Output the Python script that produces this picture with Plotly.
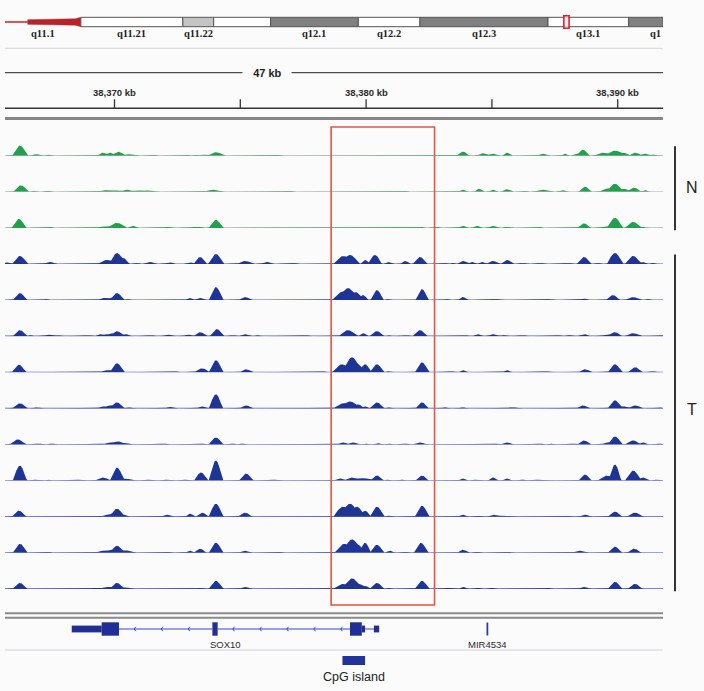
import numpy as np
import plotly.graph_objects as go

FIG_W, FIG_H = 704, 691

# ------------------------------------------------------------------ data
VIEW_START_KB = 38365.648
VIEW_END_KB = 38391.80
PEAK_OFFSET_KB = 38365.03          # peak positions below are kb offsets from here
RULER_TICKS_KB = [38370, 38375, 38380, 38385, 38390]
RULER_LABEL_EVERY_KB = 10
RULER_SPAN_LABEL = "47 kb"
RULER_SPAN_LABEL_KB = 38376.06
HIGHLIGHT_KB = [38378.61, 38382.72]

# chromosome 22 ideogram (hg19, Mb)
BAND_NAMES = ["q11.1", "q11.21", "q11.22", "q11.23", "q12.1", "q12.2", "q12.3", "q13.1", "q13.2"]
BAND_START_MB = [14.7, 17.9, 22.2, 23.5, 25.9, 29.6, 32.2, 37.6, 41.0]
BAND_END_MB = [17.9, 22.2, 23.5, 25.9, 29.6, 32.2, 37.6, 41.0, 44.2]
BAND_STAIN = ["acen", "gneg", "gpos25", "gneg", "gpos50", "gneg", "gpos50", "gneg", "gpos50"]
BAND_LABEL_SHOWN = [True, True, True, False, True, True, True, True, True]
IDEO_VIEW_MB = [14.7, 42.45]

# coverage peaks: (offset kb, height, half-width kb)
N1_PEAKS = [(1.21, 10, 0.24), (1.85, 1.5, 0.15), (2.33, 1, 0.12), (4.51, 3, 0.18), (4.79, 3, 0.18),
            (5.11, 4, 0.22), (5.50, 1.5, 0.18), (5.78, 1, 0.12), (6.54, 1, 0.1), (7.89, 0.8, 0.1),
            (8.17, 0.8, 0.1), (8.50, 1, 0.2), (9.00, 3.5, 0.25), (11.39, 1, 0.15),
            (18.82, 4, 0.2), (19.62, 2.5, 0.2), (20.01, 2, 0.2), (20.57, 3, 0.15), (22.00, 2, 0.2),
            (22.88, 2, 0.12), (23.35, 2, 0.15), (23.59, 6, 0.2), (24.40, 3, 0.3), (24.86, 5, 0.3),
            (25.18, 3, 0.2), (25.66, 3, 0.2), (26.06, 2, 0.2), (26.37, 1, 0.15)]
N2_PEAKS = [(1.25, 6.5, 0.24), (1.73, 1, 0.12), (2.33, 1, 0.12), (4.6, 1.5, 0.25), (5.0, 1.5, 0.25),
            (5.47, 2, 0.25), (5.9, 1.5, 0.25), (6.3, 1.3, 0.25), (8.88, 2, 0.3), (11.94, 1, 0.12),
            (16.52, 1, 0.1), (18.82, 2, 0.15), (19.46, 3, 0.15), (20.01, 2, 0.15), (20.57, 2.5, 0.18),
            (21.29, 1, 0.1), (22.00, 2, 0.3), (22.80, 1.5, 0.2), (23.67, 5, 0.2), (24.55, 3, 0.25),
            (24.86, 8, 0.25), (25.20, 3, 0.2), (25.62, 4, 0.22), (26.06, 1.5, 0.15)]
N3_PEAKS = [(1.17, 9, 0.22), (2.40, 1, 0.1), (3.44, 0.5, 0.08), (4.60, 1.5, 0.3), (5.07, 5, 0.3),
            (5.70, 2, 0.15), (7.09, 1, 0.15), (8.17, 1, 0.12), (8.37, 1, 0.12), (9.00, 8, 0.22),
            (17.15, 1, 0.1), (17.79, 1, 0.1), (18.82, 2, 0.15), (19.38, 2, 0.15), (20.01, 2, 0.2),
            (20.57, 1, 0.15), (21.88, 1, 0.08), (23.63, 4.5, 0.2), (24.55, 1.5, 0.25), (24.86, 10, 0.25),
            (25.58, 6, 0.25), (25.94, 1, 0.15)]
T1_PEAKS = [(0.70, 1.5, 0.15), (1.21, 8, 0.24), (2.40, 2, 0.2), (4.67, 4, 0.3), (5.07, 11, 0.24),
            (5.31, 6, 0.2), (5.86, 1, 0.1), (6.38, 2, 0.2), (7.17, 1.5, 0.2), (7.97, 1.5, 0.15),
            (8.37, 7, 0.2), (9.00, 10, 0.24), (10.16, 3, 0.25), (11.03, 2, 0.2), (12.06, 1, 0.15),
            (14.05, 8, 0.3), (14.33, 9, 0.3), (14.93, 4, 0.15), (15.32, 9, 0.22), (15.84, 2, 0.15),
            (16.52, 3, 0.15), (17.11, 7, 0.22), (18.11, 1, 0.1), (18.38, 1, 0.1), (18.82, 3, 0.2),
            (19.18, 2, 0.15), (19.58, 2, 0.15), (20.01, 3, 0.2), (20.57, 4, 0.2), (21.17, 1, 0.15),
            (21.88, 1, 0.15), (22.99, 1, 0.15), (23.63, 7, 0.22), (24.19, 1, 0.1), (24.86, 11, 0.25),
            (25.58, 8, 0.25), (25.94, 2, 0.15), (26.33, 1, 0.1)]
T2_PEAKS = [(1.21, 7, 0.22), (2.25, 1, 0.1), (4.55, 2, 0.2), (4.85, 2, 0.2), (5.07, 7, 0.22),
            (5.47, 1, 0.1), (7.97, 2, 0.15), (8.37, 2, 0.2), (9.00, 13, 0.22), (10.16, 3, 0.2),
            (14.0, 8, 0.3), (14.25, 12, 0.3), (14.55, 8, 0.25), (14.85, 5, 0.15), (15.40, 10, 0.2),
            (15.84, 1, 0.1), (17.19, 11, 0.2), (18.19, 1, 0.1), (18.82, 3, 0.15), (20.09, 1, 0.2),
            (21.88, 0.5, 0.1), (22.28, 1, 0.15), (23.63, 1.5, 0.2), (24.78, 5, 0.22), (25.58, 3, 0.25),
            (26.18, 1, 0.1)]
T3_PEAKS = [(1.21, 6, 0.22), (1.61, 1, 0.08), (2.33, 1.5, 0.2), (2.70, 1, 0.15), (3.91, 1, 0.15),
            (4.39, 2, 0.15), (4.67, 2, 0.2), (4.9, 3, 0.2), (5.07, 5, 0.2), (5.40, 2, 0.2),
            (6.38, 1, 0.15), (7.09, 1.5, 0.15), (7.89, 1.5, 0.15), (8.37, 4, 0.2), (9.04, 7, 0.22),
            (9.68, 1, 0.12), (10.16, 2, 0.2), (10.63, 1, 0.12), (11.55, 0.5, 0.1), (12.54, 1, 0.15),
            (14.25, 6, 0.3), (14.85, 3, 0.15), (15.40, 5, 0.22), (15.84, 1, 0.1), (16.60, 1, 0.1),
            (17.11, 6, 0.22), (18.50, 0.5, 0.1), (18.90, 1, 0.12), (19.42, 2, 0.15), (20.01, 2, 0.2),
            (20.41, 1, 0.12), (21.17, 1, 0.15), (22.56, 1, 0.15), (22.99, 1, 0.15), (23.63, 2, 0.2),
            (24.55, 1.5, 0.25), (24.86, 4, 0.22), (25.58, 3, 0.25), (26.73, 1, 0.08)]
T4_PEAKS = [(1.17, 7.5, 0.22), (2.25, 0.5, 0.08), (4.67, 2, 0.25), (5.07, 9, 0.22), (5.78, 0.5, 0.08),
            (7.37, 1, 0.12), (8.45, 4, 0.25), (9.00, 12, 0.22), (10.20, 3, 0.2), (13.26, 1, 0.1),
            (14.0, 8, 0.3), (14.41, 15, 0.3), (14.65, 8, 0.2), (14.93, 8, 0.2), (15.40, 8, 0.22),
            (15.84, 1, 0.12), (17.19, 10, 0.22), (18.38, 1, 0.15), (18.82, 2, 0.15), (20.57, 2, 0.15),
            (22.08, 1, 0.2), (23.67, 3, 0.2), (24.86, 8, 0.22), (25.66, 5, 0.22), (26.37, 1, 0.12)]
T5_PEAKS = [(1.21, 5, 0.24), (1.89, 1, 0.15), (4.5, 2, 0.2), (4.79, 3, 0.2), (5.07, 6, 0.22),
            (5.50, 1, 0.15), (7.17, 1.5, 0.15), (8.45, 2, 0.2), (9.00, 14, 0.22), (10.20, 3, 0.2),
            (14.05, 5, 0.3), (14.33, 7, 0.3), (14.65, 4, 0.2), (14.93, 2, 0.15), (15.40, 6, 0.22),
            (15.84, 1, 0.12), (17.19, 6, 0.2), (18.11, 1, 0.12), (18.82, 1, 0.12), (19.38, 0.5, 0.08),
            (20.77, 1, 0.2), (23.59, 3, 0.2), (24.86, 8, 0.22), (25.20, 2, 0.2), (25.66, 3, 0.22),
            (26.65, 1, 0.1)]
T6_PEAKS = [(1.13, 5, 0.25), (1.93, 1, 0.15), (2.48, 1, 0.12), (4.47, 1, 0.15), (4.8, 2, 0.25),
            (5.11, 3, 0.25), (5.4, 1.5, 0.2), (6.30, 0.5, 0.08), (6.90, 1, 0.15), (8.45, 1, 0.12),
            (9.00, 7, 0.22), (9.68, 1, 0.08), (10.04, 1, 0.1), (14.05, 2, 0.2), (14.45, 2, 0.2),
            (14.93, 1, 0.12), (15.40, 1.5, 0.15), (15.84, 1, 0.12), (16.52, 1, 0.12), (17.11, 2, 0.2),
            (20.09, 1, 0.15), (20.57, 2, 0.2), (21.88, 1, 0.12), (22.28, 1, 0.12), (23.19, 1, 0.15),
            (23.63, 4, 0.2), (24.55, 2, 0.2), (24.86, 8, 0.22), (25.58, 4, 0.25), (25.98, 2, 0.15),
            (26.65, 1, 0.1)]
T7_PEAKS = [(1.21, 15, 0.22), (1.89, 1, 0.15), (2.33, 1, 0.1), (3.60, 1, 0.15), (4.51, 3, 0.25),
            (5.07, 13, 0.22), (5.4, 2, 0.25), (5.58, 1.5, 0.2), (6.38, 1, 0.15), (7.09, 1, 0.15),
            (7.85, 1, 0.15), (8.41, 8, 0.22), (9.00, 20, 0.22), (10.20, 7, 0.22), (11.39, 1, 0.15),
            (13.95, 2, 0.2), (14.41, 3, 0.25), (14.75, 2.5, 0.25), (15.0, 2, 0.2), (15.40, 5, 0.2),
            (15.84, 1, 0.1), (16.40, 1, 0.1), (17.19, 5, 0.2), (18.82, 2, 0.15), (19.38, 1, 0.15),
            (20.01, 3, 0.15), (20.57, 2, 0.15), (21.17, 1, 0.12), (21.7, 1, 0.3), (23.67, 6, 0.2),
            (24.55, 5, 0.3), (24.86, 16, 0.2), (25.58, 10, 0.25), (25.98, 3, 0.2), (26.57, 1, 0.15)]
T8_PEAKS = [(1.17, 6, 0.22), (4.67, 2, 0.2), (4.9, 3, 0.2), (5.07, 8, 0.22), (5.35, 2, 0.15),
            (7.06, 2, 0.2), (7.97, 3, 0.15), (8.45, 4, 0.2), (9.00, 13, 0.22), (10.16, 4, 0.22),
            (14.05, 10, 0.3), (14.33, 13, 0.3), (14.6, 10, 0.25), (14.93, 6, 0.18), (15.40, 10, 0.22),
            (15.84, 1, 0.12), (16.44, 0.5, 0.1), (17.19, 11, 0.22), (18.82, 2, 0.15), (19.42, 1, 0.15),
            (20.01, 2, 0.2), (20.4, 1, 0.3), (22.96, 1, 0.15), (23.67, 2, 0.2), (24.86, 5, 0.22),
            (25.66, 4, 0.25)]
T9_PEAKS = [(1.21, 9, 0.22), (2.33, 1, 0.1), (4.5, 2, 0.25), (4.85, 3, 0.25), (5.07, 7, 0.22),
            (5.4, 2.5, 0.25), (7.09, 1, 0.12), (7.97, 2, 0.15), (8.37, 4, 0.2), (9.00, 10, 0.22),
            (10.16, 2, 0.2), (11.51, 1, 0.12), (14.1, 9, 0.3), (14.41, 13.5, 0.3), (14.65, 8, 0.2),
            (14.93, 10, 0.18), (15.40, 8, 0.22), (15.92, 2, 0.15), (16.52, 1, 0.12), (17.15, 10, 0.22),
            (18.82, 3, 0.18), (19.38, 1, 0.12), (20.61, 1, 0.15), (23.47, 2, 0.25), (24.86, 6, 0.22),
            (25.62, 4, 0.22)]
T10_PEAKS = [(1.21, 6, 0.22), (2.33, 0.5, 0.08), (4.2, 1, 0.2), (4.67, 2, 0.25), (5.07, 6, 0.22),
             (5.4, 1.5, 0.2), (8.37, 1, 0.15), (9.00, 8, 0.22), (10.16, 2, 0.2), (14.05, 5, 0.3),
             (14.41, 10.5, 0.3), (14.7, 5, 0.2), (14.93, 3, 0.15), (15.40, 6, 0.22), (15.88, 1, 0.1),
             (16.48, 0.5, 0.08), (17.19, 8, 0.22), (18.23, 1, 0.2), (18.82, 2, 0.15), (19.42, 1, 0.12),
             (19.97, 1, 0.12), (20.69, 0.5, 0.08), (22.20, 1, 0.12), (23.63, 2, 0.2), (24.86, 7, 0.22),
             (25.66, 5, 0.22)]

N_TRACKS = [N1_PEAKS, N2_PEAKS, N3_PEAKS]
T_TRACKS = [T1_PEAKS, T2_PEAKS, T3_PEAKS, T4_PEAKS, T5_PEAKS,
            T6_PEAKS, T7_PEAKS, T8_PEAKS, T9_PEAKS, T10_PEAKS]
GROUP_LABELS = ["N", "T"]

# genes (kb)
SOX10_NAME = "SOX10"
SOX10_UTR_BLOCKS = [(38368.30, 38369.49), (38379.83, 38379.96), (38380.31, 38380.52)]
SOX10_CDS_BLOCKS = [(38369.49, 38370.18), (38373.89, 38374.10), (38379.36, 38379.83)]
SOX10_INTRONS = [(38370.18, 38373.89), (38374.10, 38379.36), (38379.96, 38380.31)]
MIR_NAME = "MIR4534"
MIR_KB = 38384.82
CPG_LABEL = "CpG island"
CPG_KB = (38379.06, 38379.96)

# ------------------------------------------------------------------ style / layout
X0_PX, X1_PX = 5, 663
BASE0_PX, TRACK_STEP_PX = 155.7, 36.1
TRACK_H = 30
KERNEL_WIDEN = 1.35
GREEN = "#22a04b"
NAVY = "#1f3596"
BLUE_LINE = "#4a5be0"
GRAY_LINE = "#b4b4b4"
BG = "#fbfbfb"


def yp(px):
    return 1 - px / FIG_H


xdom = [X0_PX / FIG_W, X1_PX / FIG_W]
xs = np.arange(VIEW_START_KB, VIEW_END_KB, 0.01)


def profile(peaks):
    y = np.zeros_like(xs)
    for pos, h, hw in peaks:
        u = (xs - (PEAK_OFFSET_KB + pos)) / (hw * KERNEL_WIDEN)
        m = np.abs(u) < 1
        y[m] = np.maximum(y[m], h * (1 - u[m] ** 2) ** 1.6)
    return y


fig = go.Figure()
layout_axes = {}
shapes = []
annotations = []

all_tracks = [(p, "N") for p in N_TRACKS] + [(p, "T") for p in T_TRACKS]
baselines = []
for i, (peaks, grp) in enumerate(all_tracks):
    base = BASE0_PX + TRACK_STEP_PX * i
    baselines.append(base)
    yname = "y" if i == 0 else f"y{i + 1}"
    lname = "yaxis" if i == 0 else f"yaxis{i + 1}"
    layout_axes[lname] = dict(domain=[yp(base), yp(base - TRACK_H)], range=[0, TRACK_H],
                              visible=False, fixedrange=True, anchor="x")
    col = GREEN if grp == "N" else NAVY
    shapes.append(dict(type="line", xref="x", yref=yname, x0=VIEW_START_KB, x1=VIEW_END_KB,
                       y0=0, y1=0, layer="below",
                       line=dict(color=GRAY_LINE if grp == "N" else BLUE_LINE, width=1.2)))
    fig.add_trace(go.Scatter(x=xs, y=profile(peaks), mode="lines", line=dict(width=0, color=col),
                             fill="tozeroy", fillcolor=col, xaxis="x", yaxis=yname,
                             hoverinfo="skip", showlegend=False))

# gene axis
GENE_Y = 629
gi = len(all_tracks) + 1
gname = f"y{gi}"
layout_axes[f"yaxis{gi}"] = dict(domain=[yp(GENE_Y + 12), yp(GENE_Y - 12)], range=[-12, 12],
                                 visible=False, fixedrange=True, anchor="x")
GENE_COL = "#1f2f96"
for a, b in SOX10_INTRONS:
    shapes.append(dict(type="line", xref="x", yref=gname, x0=a, x1=b, y0=0, y1=0,
                       line=dict(color="#3347cc", width=1)))
    step, off = 1.073, 0.6
    c = a + off
    while c < b - 0.3:
        shapes.append(dict(type="path", xref="x", yref=gname,
                           path=f"M {c + 0.07},2.2 L {c},0 L {c + 0.07},-2.2",
                           line=dict(color="#3347cc", width=1)))
        c += step
for a, b in SOX10_UTR_BLOCKS:
    shapes.append(dict(type="rect", xref="x", yref=gname, x0=a, x1=b, y0=-3.4, y1=3.4,
                       fillcolor=GENE_COL, line=dict(width=0)))
for a, b in SOX10_CDS_BLOCKS:
    shapes.append(dict(type="rect", xref="x", yref=gname, x0=a, x1=b, y0=-6.7, y1=6.7,
                       fillcolor=GENE_COL, line=dict(width=0)))
shapes.append(dict(type="rect", xref="x", yref=gname, x0=MIR_KB - 0.035, x1=MIR_KB + 0.035,
                   y0=-6.5, y1=6.5, fillcolor="#2a3aa8", line=dict(width=0)))
sox_center = (SOX10_UTR_BLOCKS[0][0] + SOX10_UTR_BLOCKS[-1][1]) / 2
for txt, xk in [(SOX10_NAME, sox_center), (MIR_NAME, MIR_KB)]:
    annotations.append(dict(text=txt, x=xk, xref="x", y=yp(644), yref="paper", showarrow=False,
                            font=dict(family="Liberation Sans, Arial", size=9.5, color="#2a2a2a"),
                            xanchor="center", yanchor="middle"))

# CpG island
shapes.append(dict(type="rect", xref="x", yref="paper", x0=CPG_KB[0], x1=CPG_KB[1],
                   y0=yp(665), y1=yp(656), fillcolor="#22339a", line=dict(width=0)))
annotations.append(dict(text=CPG_LABEL, x=sum(CPG_KB) / 2, xref="x", y=yp(677), yref="paper",
                        showarrow=False, font=dict(family="Liberation Sans, Arial", size=12.5, color="#222"),
                        xanchor="center", yanchor="middle"))


def hline(py, color, width):
    shapes.append(dict(type="line", xref="paper", yref="paper", x0=xdom[0], x1=xdom[1],
                       y0=yp(py), y1=yp(py), line=dict(color=color, width=width)))


hline(48.3, "#d6d6d6", 1)
hline(72.7, "#222", 1)
hline(108.3, "#333", 1.5)
hline(118.5, "#858585", 3)
hline(613.3, "#8a8a8a", 2)
hline(617.7, "#8a8a8a", 2)
hline(650, "#d4d4dc", 1)

# ruler
for t in RULER_TICKS_KB:
    shapes.append(dict(type="line", xref="x", yref="paper", x0=t, x1=t, y0=yp(108.3), y1=yp(99.3),
                       line=dict(color="#333", width=1.3)))
    if t % RULER_LABEL_EVERY_KB == 0:
        annotations.append(dict(text=f"<b>{t:,} kb</b>", x=t, xref="x", y=yp(92.3), yref="paper",
                                showarrow=False, xanchor="center", yanchor="middle",
                                font=dict(family="Liberation Sans Narrow, Liberation Sans", size=9.5,
                                          color="#2a2a2a")))
annotations.append(dict(text="&nbsp;&nbsp;&nbsp;<b>" + RULER_SPAN_LABEL + "</b>&nbsp;&nbsp;&nbsp;",
                        x=RULER_SPAN_LABEL_KB, xref="x", y=yp(72.7),
                        yref="paper", showarrow=False, xanchor="center", yanchor="middle",
                        bgcolor=BG, borderpad=1,
                        font=dict(family="Liberation Sans, Arial", size=11, color="#222")))

# highlight region
shapes.append(dict(type="rect", xref="x", yref="paper", x0=HIGHLIGHT_KB[0], x1=HIGHLIGHT_KB[1],
                   y0=yp(605), y1=yp(127), line=dict(color="#e4553f", width=1.6),
                   fillcolor="rgba(0,0,0,0)", layer="above"))

# group brackets and labels
groups = [(GROUP_LABELS[0], baselines[0], baselines[len(N_TRACKS) - 1], 187),
          (GROUP_LABELS[1], baselines[len(N_TRACKS)], baselines[-1], 409)]
for lab, btop, bbot, ly in groups:
    shapes.append(dict(type="line", xref="paper", yref="paper", x0=675 / FIG_W, x1=675 / FIG_W,
                       y0=yp(btop - 9.5), y1=yp(bbot + 2.3), line=dict(color="#333", width=2)))
    annotations.append(dict(text=lab, x=692 / FIG_W, xref="paper", y=yp(ly), yref="paper",
                            showarrow=False, xanchor="center", yanchor="middle",
                            font=dict(family="Liberation Sans, Arial", size=16, color="#222")))

# ideogram
IDEO_TOP, IDEO_BOT = 17.3, 26.7
IDEO_MID = (IDEO_TOP + IDEO_BOT) / 2
STAIN_COL = {"gneg": "#ffffff", "gpos25": "#c4c4c4", "gpos50": "#808080"}
for name, s, e, st, show in zip(BAND_NAMES, BAND_START_MB, BAND_END_MB, BAND_STAIN, BAND_LABEL_SHOWN):
    e_vis = min(e, IDEO_VIEW_MB[1])
    if st == "acen":
        L = e - s
        yc = yp(IDEO_MID)
        pts = [(s, 0.6), (s + 0.3 * L, 0.6), (s + 0.3 * L, 2.3), (s + 0.93 * L, 3.2), (e, 4.7)]
        up = " L ".join(f"{x},{yc + h / FIG_H}" for x, h in pts)
        dn = " L ".join(f"{x},{yc - h / FIG_H}" for x, h in reversed(pts))
        shapes.append(dict(type="path", xref="x2", yref="paper", path=f"M {up} L {dn} Z",
                           fillcolor="#b8232a", line=dict(color="#b8232a", width=0.5)))
    else:
        shapes.append(dict(type="rect", xref="x2", yref="paper", x0=s, x1=e_vis,
                           y0=yp(IDEO_BOT), y1=yp(IDEO_TOP), fillcolor=STAIN_COL[st],
                           line=dict(color="#555", width=1)))
    if show:
        font = dict(family="Liberation Serif, Times New Roman", size=10.5, color="#222")
        if e > IDEO_VIEW_MB[1]:
            annotations.append(dict(text=f"<b>{name[:2]}</b>", x=IDEO_VIEW_MB[1], xref="x2",
                                    y=yp(33.5), yref="paper", showarrow=False, xanchor="right",
                                    yanchor="middle", font=font))
        else:
            annotations.append(dict(text=f"<b>{name}</b>", x=(s + e_vis) / 2, xref="x2", y=yp(33.5),
                                    yref="paper", showarrow=False, xanchor="center", yanchor="middle",
                                    font=font))
view_mid_mb = (VIEW_START_KB + VIEW_END_KB) / 2 / 1000
shapes.append(dict(type="rect", xref="x2", yref="paper", x0=view_mid_mb - 0.11, x1=view_mid_mb + 0.11,
                   y0=yp(28.3), y1=yp(15.7), line=dict(color="#e0202a", width=1.6),
                   fillcolor="rgba(255,235,235,0.8)"))

fig.update_layout(
    width=FIG_W, height=FIG_H, margin=dict(l=0, r=0, t=0, b=0),
    paper_bgcolor=BG, plot_bgcolor=BG, showlegend=False,
    xaxis=dict(domain=xdom, range=[VIEW_START_KB, VIEW_END_KB], visible=False, fixedrange=True,
               anchor="y"),
    xaxis2=dict(domain=xdom, range=IDEO_VIEW_MB, visible=False, fixedrange=True, anchor="free",
                position=0, overlaying="x"),
    shapes=shapes, annotations=annotations,
    **layout_axes,
)

fig.write_html("out.html", config={"displayModeBar": False},
               post_script="document.body.style.margin='0';document.body.style.overflow='hidden';")
